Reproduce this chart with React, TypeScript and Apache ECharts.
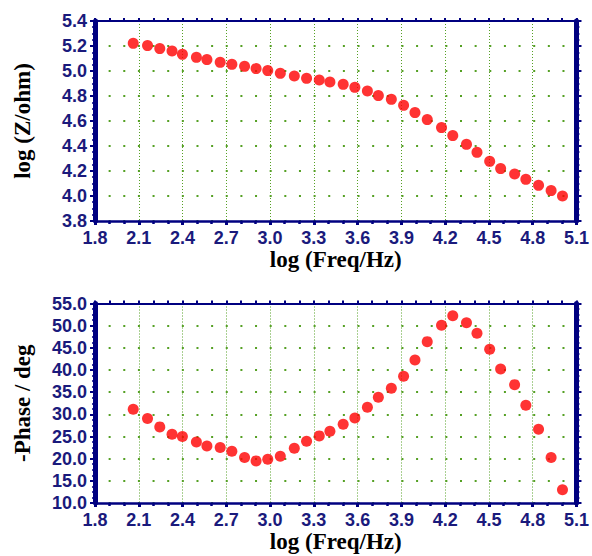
import React, { useEffect, useRef } from "react";
import * as echarts from "echarts";

const logFreq = [2.062, 2.16, 2.244, 2.328, 2.399, 2.495, 2.567, 2.658, 2.738, 2.825, 2.904, 2.984, 3.07, 3.166, 3.25, 3.337, 3.41, 3.501, 3.581, 3.667, 3.742, 3.831, 3.915, 3.993, 4.077, 4.175, 4.252, 4.346, 4.418, 4.505, 4.58, 4.676, 4.753, 4.84, 4.926, 5.004];
const logZ = [5.221, 5.203, 5.179, 5.16, 5.133, 5.109, 5.091, 5.069, 5.053, 5.037, 5.019, 5.003, 4.981, 4.96, 4.941, 4.928, 4.912, 4.893, 4.869, 4.84, 4.803, 4.773, 4.725, 4.667, 4.611, 4.547, 4.483, 4.413, 4.349, 4.277, 4.219, 4.176, 4.133, 4.085, 4.043, 4.0];
const phase = [31.15, 29.04, 27.17, 25.51, 24.99, 23.78, 22.88, 22.51, 21.68, 20.25, 19.5, 19.88, 20.56, 22.36, 23.94, 25.14, 26.19, 27.77, 29.19, 31.6, 33.85, 35.88, 38.58, 42.27, 46.4, 50.08, 52.26, 50.68, 48.28, 44.67, 40.24, 36.7, 32.05, 26.64, 20.25, 12.97];

const xRange = { min: 1.8, max: 5.1, interval: 0.3 };
const zRange = { min: 3.8, max: 5.4, interval: 0.2 };
const phaseRange = { min: 10, max: 55, interval: 5 };
const xName = "log (Freq/Hz)";
const zName = "log (Z/ohm)";
const phaseName = "-Phase / deg";

const NAVY = "#000080";
const LABEL = "#1a1a7c";
const GREEN = "#55a024";
const LABEL_FONT = "'Liberation Sans Narrow', 'Arial Narrow', 'Liberation Sans', Arial, sans-serif";
const NAME_FONT = "'Liberation Serif', 'Times New Roman', serif";

function bottomX(gridIndex: number) {
  return {
    type: "value",
    gridIndex,
    position: "bottom",
    ...xRange,
    name: xName,
    nameLocation: "middle",
    nameGap: 38,
    nameTextStyle: { fontFamily: NAME_FONT, fontWeight: "bold", fontSize: 23, color: "#000", verticalAlign: "middle" },
    axisLine: { show: true, onZero: false, lineStyle: { color: NAVY, width: 2.5 } },
    axisTick: { show: true, length: 4, lineStyle: { color: NAVY, width: 3 } },
    minorTick: { show: true, splitNumber: 3, length: 3, lineStyle: { color: NAVY, width: 2.5 } },
    axisLabel: { margin: 8, color: LABEL, fontFamily: LABEL_FONT, fontWeight: "bold", fontSize: 18, formatter: (v: number) => v.toFixed(1) },
    splitLine: { show: true, lineStyle: { color: GREEN, width: 1, type: [1, 2] } },
  };
}

function topX(gridIndex: number) {
  return {
    type: "value",
    gridIndex,
    position: "top",
    ...xRange,
    axisLine: { show: true, onZero: false, lineStyle: { color: NAVY, width: 2 } },
    axisTick: { show: true, length: 3, lineStyle: { color: NAVY, width: 2 } },
    minorTick: { show: true, splitNumber: 3, length: 3, lineStyle: { color: NAVY, width: 2 } },
    axisLabel: { show: false },
    splitLine: { show: false },
  };
}

function leftY(gridIndex: number, range: any, name: string) {
  return {
    type: "value",
    gridIndex,
    position: "left",
    ...range,
    name,
    nameLocation: "middle",
    nameGap: 73,
    nameTextStyle: { fontFamily: NAME_FONT, fontWeight: "bold", fontSize: 23, color: "#000", verticalAlign: "middle" },
    axisLine: { show: true, onZero: false, lineStyle: { color: NAVY, width: 5 } },
    axisTick: { show: true, length: 5, lineStyle: { color: NAVY, width: 2 } },
    minorTick: { show: true, splitNumber: 4, length: 3, lineStyle: { color: NAVY, width: 1.5 } },
    axisLabel: { margin: 8, color: LABEL, fontFamily: LABEL_FONT, fontWeight: "bold", fontSize: 18, formatter: (v: number) => v.toFixed(1) },
    splitLine: { show: true, lineStyle: { color: GREEN, width: 2, type: [2, 12.64], dashOffset: 1 } },
  };
}

function rightY(gridIndex: number, range: any) {
  return {
    type: "value",
    gridIndex,
    position: "right",
    ...range,
    axisLine: { show: true, onZero: false, lineStyle: { color: NAVY, width: 5 } },
    axisTick: { show: true, length: 5, lineStyle: { color: NAVY, width: 2 } },
    minorTick: { show: true, splitNumber: 4, length: 3, lineStyle: { color: NAVY, width: 1.5 } },
    axisLabel: { show: false },
    splitLine: { show: false },
  };
}

export default function App() {
  const ref = useRef<HTMLDivElement>(null);
  useEffect(() => {
    if (!ref.current) return;
    const chart = echarts.init(ref.current, undefined, { renderer: "svg" });
    const option = {
      animation: false,
      backgroundColor: "#ffffff",
      grid: [
        { left: 95, top: 21, width: 483, height: 200 },
        { left: 95, top: 303.5, width: 483, height: 199.5 },
      ],
      xAxis: [bottomX(0), topX(0), bottomX(1), topX(1)],
      yAxis: [leftY(0, zRange, zName), rightY(0, zRange), leftY(1, phaseRange, phaseName), rightY(1, phaseRange)],
      series: [
        {
          type: "scatter",
          xAxisIndex: 0,
          yAxisIndex: 0,
          symbol: "circle",
          symbolSize: 11,
          itemStyle: { color: "#ff0000" },
          data: logFreq.map((x, i) => [x, logZ[i]]),
        },
        {
          type: "scatter",
          xAxisIndex: 2,
          yAxisIndex: 2,
          symbol: "circle",
          symbolSize: 11,
          itemStyle: { color: "#ff0000" },
          data: logFreq.map((x, i) => [x, phase[i]]),
        },
      ],
    };
    chart.setOption(option as any);
    return () => chart.dispose();
  }, []);
  return <div ref={ref} style={{ position: "fixed", left: 0, top: 0, width: 592, height: 556 }} />;
}
